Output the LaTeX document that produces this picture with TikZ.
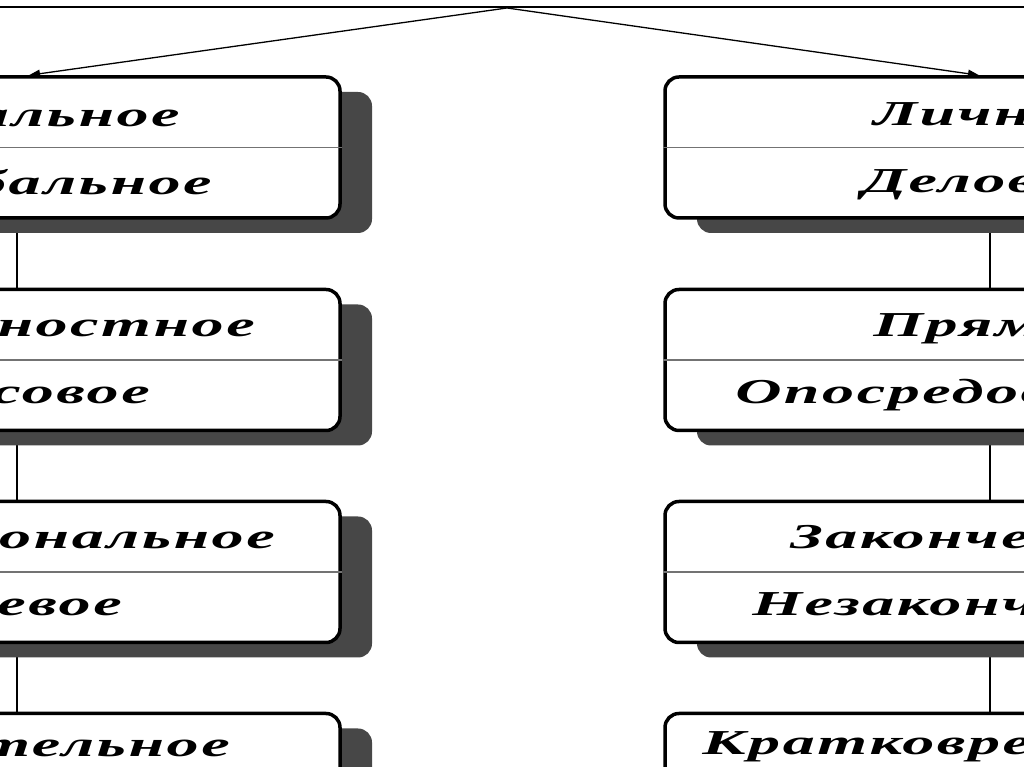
\documentclass[tikz,border=0pt]{standalone}
\usepackage{fontspec}
\newfontfamily\boxfont[FakeStretch=1.5,LetterSpace=6]{Liberation Serif Bold Italic}
\usepackage{tikz}
\usetikzlibrary{arrows.meta,backgrounds,positioning,shadows}
\tikzset{
  typebox/.style={draw=black, line width=3.5pt, rounded corners=14pt, fill=white,
    minimum width=740pt, minimum height=141pt, inner sep=0pt,
    drop shadow={shadow xshift=32pt, shadow yshift=-15pt, fill=black!72, opacity=1}},
  boxtext/.style={font=\boxfont\fontsize{35}{35}\selectfont, inner sep=0pt,
    xscale=1.22, transform shape},
  divider/.style={draw=black!55, line width=1.2pt},
  link/.style={draw=black, line width=1.3pt},
}

\begin{document}
\begin{tikzpicture}[x=1pt,y=1pt]
\useasboundingbox (0,0) rectangle (1024,767);
\clip (0,0) rectangle (1024,767);
% Top rule and branch point
\coordinate (apex) at (507,759);
\coordinate (ltip) at (29,0);
\coordinate (rtip) at (979,0);
\coordinate (lx) at (17,0);
\coordinate (rx) at (990,0);
\draw[line width=2.5pt] (0,760) -- (1024,760);
% Two columns of boxes
\foreach \i/\y in {1/619.5,2/407,3/195,4/-17}{
  \node[typebox] (L\i) at (-30,\y) {};
  \node[typebox] (R\i) at (1035,\y) {};
  \draw[divider] (L\i.west) -- (L\i.east);
  \draw[divider] (R\i.west) -- (R\i.east);
}
% Left texts
\node[boxtext,anchor=mid east] (l1a) at (180,643) {альное};
\node[boxtext,anchor=mid east] (l1b) at (212,575) {бальное};
\node[boxtext,anchor=mid east] (l2a) at (255,433) {ностное};
\node[boxtext,anchor=mid east] (l2b) at (150,366) {совое};
\node[boxtext,anchor=mid east] (l3a) at (275,221) {сональное};
\node[boxtext,anchor=mid east] (l3b) at (122,154) {евое};
\node[boxtext,anchor=mid east] (l4a) at (230,13) {тельное};
% Right texts
\node[boxtext,anchor=mid west] (r1a) at (873,644) {Личн};
\node[boxtext,anchor=mid west] (r1b) at (862,577) {Делов};
\node[boxtext,anchor=mid west] (r2a) at (873,433) {Прям};
\node[boxtext,anchor=mid west] (r2b) at (735,366) {Опосредов};
\node[boxtext,anchor=mid west] (r3a) at (790,221) {Законче};
\node[boxtext,anchor=mid west] (r3b) at (752,154) {Незаконч};
\node[boxtext,anchor=mid west] (r4a) at (702,15) {Кратковре};
% Branches from the top
\draw[link,-{Triangle[length=11pt,width=8pt]}] (apex) -- (L1.north -| ltip);
\draw[link,-{Triangle[length=11pt,width=8pt]}] (apex) -- (R1.north -| rtip);
% Vertical links behind the shadows
\begin{scope}[on background layer]
\foreach \i/\j in {1/2,2/3,3/4}{
  \draw[link] (L\i.south -| lx) -- (L\j.north -| lx);
  \draw[link] (R\i.south -| rx) -- (R\j.north -| rx);
}
\end{scope}
\end{tikzpicture}
\end{document}
